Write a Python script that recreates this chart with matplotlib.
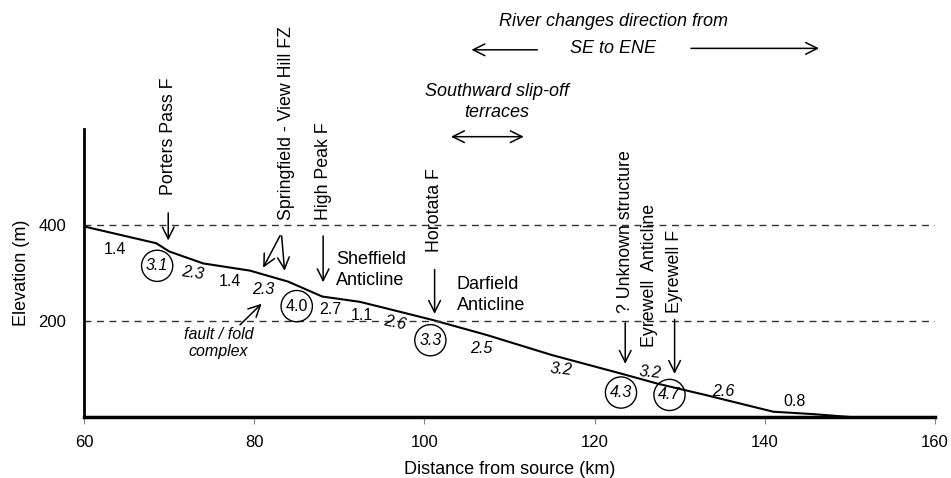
import matplotlib.pyplot as plt

plt.rcParams['font.family'] = ['Liberation Sans', 'DejaVu Sans']

# river long profile
dist = [60, 68.5, 70, 74, 79.5, 84, 88, 92.4, 95.6, 101, 107.3, 115, 123, 127.5, 133, 141, 145.7, 150]
elev = [397, 362, 345, 320, 305, 282, 251, 240, 226, 202, 171, 129, 91, 69, 46, 11, 6, 0]

ref_levels = [200, 400]
xticks = [60, 80, 100, 120, 140, 160]
yticks = [200, 400]

# gradient labels: text, x, y, italic, circled, rotation
grads = [
    ("1.4", 63.6, 348, False, False, 0),
    ("3.1", 68.6, 315, True, True, 0),
    ("2.3", 72.8, 299, True, False, -8),
    ("1.4", 77.2, 282, False, False, 0),
    ("2.3", 81.1, 266, True, False, 0),
    ("4.0", 85.0, 231, False, True, 0),
    ("2.7", 88.9, 223, False, False, 0),
    ("1.1", 92.6, 212, False, False, 0),
    ("2.6", 96.5, 195, True, False, -12),
    ("3.3", 100.7, 160, True, True, 0),
    ("2.5", 106.7, 143, True, False, 0),
    ("3.2", 116.1, 98, True, False, -5),
    ("4.3", 123.1, 51, True, True, 0),
    ("3.2", 126.5, 92, True, False, -5),
    ("4.7", 128.8, 46, True, True, 0),
    ("2.6", 135.1, 53, True, False, 0),
    ("0.8", 143.5, 32, False, False, 0),
]

# structures: label, x, label bottom, arrow start, arrow end
structures = [
    ("Porters Pass F", 69.9, 462, 431, 362),
    ("Springfield - View Hill FZ", 83.8, 410, None, None),
    ("High Peak F", 88.1, 410, 383, 275),
    ("Horotata F", 101.2, 344, 313, 209),
    ("? Unknown structure", 123.6, 217, 202, 105),
    ("Eyrewell  Anticline", 126.5, 146, None, None),
    ("Eyrewell F", 129.4, 217, 209, 84),
]

fig = plt.figure(figsize=(9.51, 4.78), dpi=100)
ax = fig.add_axes([0.0883, 0.1276, 0.8949, 0.6025])

ax.plot(dist, elev, color='black', lw=1.5)
for lv in ref_levels:
    ax.plot([60, 160], [lv, lv], color='#333333', lw=1.0, dashes=(5, 4))

ax.set_xlim(60, 160)
ax.set_ylim(0, 600)
ax.set_xticks(xticks)
ax.set_yticks(yticks)
ax.tick_params(axis='y', direction='in', length=3, color='#888888', labelsize=12, pad=13)
ax.tick_params(axis='x', length=5, color='#888888', labelsize=12, pad=8)
for s in ['top', 'right']:
    ax.spines[s].set_visible(False)
ax.spines['left'].set_linewidth(2)
ax.spines['bottom'].set_linewidth(2.5)
ax.set_xlabel("Distance from source (km)", fontsize=13, labelpad=8)
ax.set_ylabel("Elevation (m)", fontsize=13, labelpad=6)

arr = dict(arrowstyle='->,head_length=0.6,head_width=0.3', lw=1.1, color='black', mutation_scale=14)

for txt, x, y, it, circ, rot in grads:
    kw = {}
    if circ:
        kw['bbox'] = dict(boxstyle='circle,pad=0.28', fc='none', ec='black', lw=1.0)
    ax.text(x, y, txt, fontsize=11.5, ha='center', va='center', rotation=rot,
            style='italic' if it else 'normal', **kw)

for name, x, bottom, a0, a1 in structures:
    ax.text(x, bottom, name, rotation=90, ha='center', va='bottom', fontsize=12.8)
    if a0 is not None:
        ax.annotate('', xy=(x, a1), xytext=(x, a0), arrowprops=arr, annotation_clip=False)

# Springfield - View Hill FZ arrows
ax.annotate('', xy=(80.9, 306), xytext=(83.2, 383), arrowprops=arr)
ax.annotate('', xy=(83.6, 299), xytext=(83.2, 383), arrowprops=arr)

ax.text(89.6, 306, "Sheffield\nAnticline", fontsize=13, ha='left', va='center', linespacing=1.3)
ax.text(103.8, 254, "Darfield\nAnticline", fontsize=13, ha='left', va='center', linespacing=1.25)

ax.text(75.8, 154, "fault / fold\ncomplex", fontsize=11.5, style='italic', ha='center', va='center',
        linespacing=1.15)
ax.annotate('', xy=(81.1, 240), xytext=(78.1, 188), arrowprops=arr)

ax.text(122.2, 823, "River changes direction from", fontsize=13, style='italic', ha='center', va='center')
ax.text(122.2, 768, "SE to ENE", fontsize=13, style='italic', ha='center', va='center')
ax.annotate('', xy=(105.2, 765), xytext=(113.6, 765), arrowprops=arr, annotation_clip=False)
ax.annotate('', xy=(146.7, 768), xytext=(131.0, 768), arrowprops=arr, annotation_clip=False)

ax.text(108.5, 656, "Southward slip-off\nterraces", fontsize=13, style='italic', ha='center', va='center',
        linespacing=1.3)
ax.annotate('', xy=(112.0, 584), xytext=(102.8, 584),
            arrowprops=dict(arr, arrowstyle='<->,head_length=0.6,head_width=0.3'), annotation_clip=False)

plt.savefig('out.png', dpi=100)
